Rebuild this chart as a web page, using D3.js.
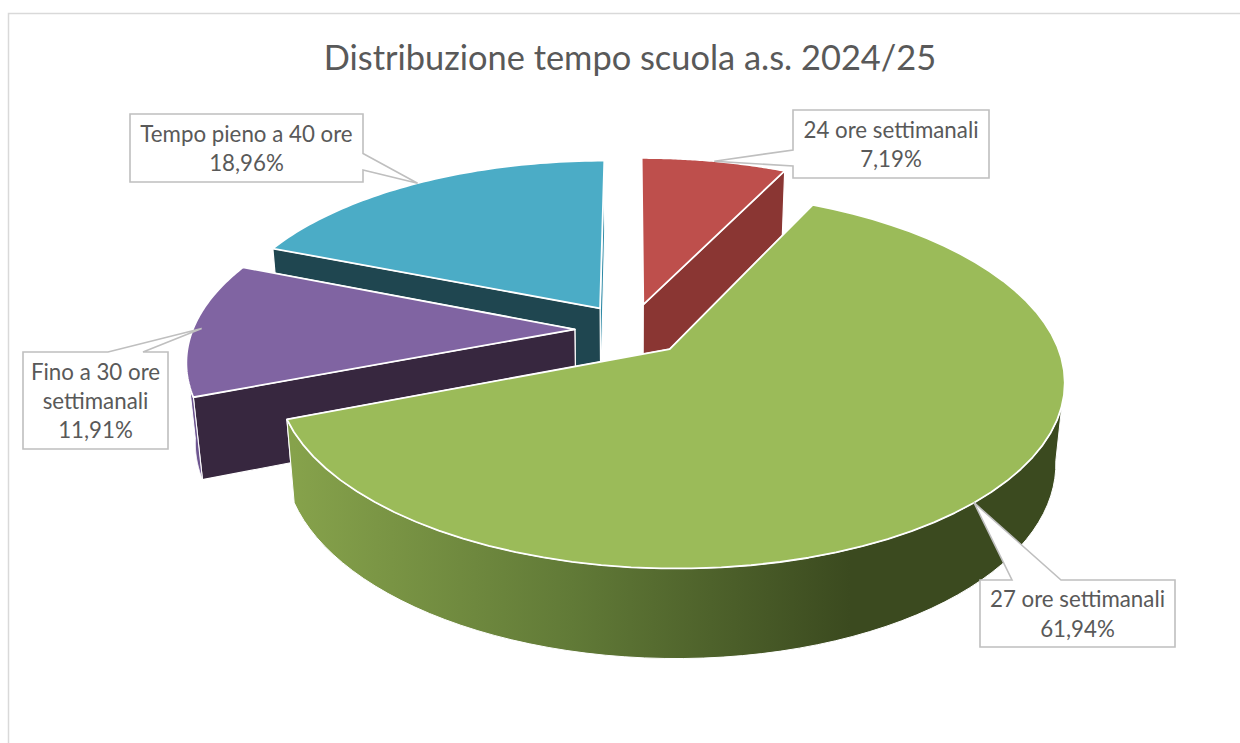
<!DOCTYPE html>
<html><head><meta charset="utf-8">
<script src="https://cdn.jsdelivr.net/npm/d3@7/dist/d3.min.js"></script>
<style>html,body{margin:0;padding:0;background:#fff;overflow:hidden}svg{display:block}text{font-family:Lato,"Open Sans",sans-serif;fill:#595959}</style>
</head><body><svg id="c" width="1240" height="743"></svg>
<script>
const categories = ["24 ore settimanali","27 ore settimanali","Fino a 30 ore settimanali","Tempo pieno a 40 ore"];
const values = [7.19,61.94,11.91,18.96];
const valueLabels = ["7,19%","61,94%","11,91%","18,96%"];
const labelLines = [["24 ore settimanali"],["27 ore settimanali"],["Fino a 30 ore","settimanali"],["Tempo pieno a 40 ore"]];
const topColors = ["#BE4F4C","#9BBB59","#8064A2","#4BACC6"];
const startWallColors = ["#C9C9C9","#5f7a33","#37273F","#1F4650"];
const endWallColors = ["#8A3633","#5f7a33","#37273F","#2E8AA6"];
const rimColors = ["#8A3633","url(#greenRim)","#6d5590","#2E8AA6"];
const title = "Distribuzione tempo scuola a.s. 2024/25";
// callout box: x0,x1,y0,y1, side of pointer, pointer base a,b, anchor inset
const boxes = [
 {x0:793,x1:989,y0:110,y1:178,side:"left",a:150,b:166,inset:1},
 {x0:980,x1:1175,y0:580,y1:647,side:"top",a:1012,b:1061,inset:1},
 {x0:23,x1:168,y0:352,y1:449,side:"top",a:108,b:143,inset:.978},
 {x0:130,x1:363,y0:114,y1:182,side:"right",a:153.5,b:170,inset:1}
];
// perspective model
const cx=631, cy=329.5, A=382, B=177.5, K=.16, M=.02, D=80.6, E=.147;
const proj=(X,Y,z)=>{const w=1+K*Y+M*z;return [cx+A*X/w, cy-(B*Y-D*z)/w];};

const svg=d3.select("#c");
const defs=svg.append("defs");
const g=defs.append("linearGradient").attr("id","greenRim").attr("gradientUnits","userSpaceOnUse")
 .attr("x1",294).attr("x2",850).attr("y1",0).attr("y2",0);
[[0,"#86A24B"],[.5,"#617A37"],[1,"#3B4A1F"]].forEach(s=>g.append("stop").attr("offset",s[0]).attr("stop-color",s[1]));

// frame
svg.append("path").attr("d","M8.5,743V13.5H1240").attr("fill","none").attr("stroke","#D9D9D9").attr("stroke-width",1.5);
svg.append("text").attr("x",630).attr("y",70).attr("text-anchor","middle").attr("font-size",34.4).text(title);

const pie=d3.pie().sort(null).startAngle(0).endAngle(2*Math.PI);
const arcs=pie(values).map((d,i)=>{
 const b=(d.startAngle+d.endAngle)/2;
 return {i,s:d.startAngle,e:d.endAngle,b,ox:E*Math.sin(b),oy:E*Math.cos(b)};
});
const line=d3.line();
const arcPts=(a,z,s=a.s,e=a.e)=>d3.range(0,61).map(j=>{const t=s+(e-s)*j/60;return proj(a.ox+Math.sin(t),a.oy+Math.cos(t),z);});
const frontFrom=Math.acos(-K), frontTo=2*Math.PI-Math.acos(-K);
const layer=svg.append("g");
arcs.slice().sort((p,q)=>Math.cos(q.b)-Math.cos(p.b)).forEach(a=>{
 const at0=arcPts(a,0), at1=arcPts(a,1), c0=proj(a.ox,a.oy,0), c1=proj(a.ox,a.oy,1);
 const s=layer.append("g");
 const wall=(pA,pB,col)=>s.append("path").attr("d",line([c0,pA,pB,c1])+"Z").attr("fill",col).attr("stroke","#fff").attr("stroke-width",1.2).attr("stroke-linejoin","round");
 // the wall whose outer end lies further back is painted first
 const walls=[{y:Math.cos(a.s),p:at0[0],q:at1[0],c:startWallColors[a.i]},{y:Math.cos(a.e),p:at0[60],q:at1[60],c:endWallColors[a.i]}];
 walls.sort((u,v)=>v.y-u.y).forEach(w=>wall(w.p,w.q,w.c));
 const lo=Math.max(a.s,frontFrom), hi=Math.min(a.e,frontTo);
 if(lo<hi){
  const r0=arcPts(a,0,lo,hi), r1=arcPts(a,1,lo,hi);
  s.append("path").attr("d",line(r0.concat(r1.slice().reverse()))+"Z").attr("fill",rimColors[a.i]).attr("stroke","#fff").attr("stroke-width",1);
 }
 s.append("path").attr("d",line([c0].concat(at0))+"Z").attr("fill",topColors[a.i]).attr("stroke","#fff").attr("stroke-width",1.8).attr("stroke-linejoin","round");
});
// callouts
const labels=svg.append("g");
arcs.forEach(a=>{
 const b=boxes[a.i], r=b.inset;
 const tip=proj(a.ox+r*Math.sin(a.b),a.oy+r*Math.cos(a.b),0);
 let p;
 const {x0,x1,y0,y1}=b;
 if(b.side==="left") p=[[x0,y0],[x1,y0],[x1,y1],[x0,y1],[x0,b.b],tip,[x0,b.a]];
 else if(b.side==="right") p=[[x0,y0],[x1,y0],[x1,b.a],tip,[x1,b.b],[x1,y1],[x0,y1]];
 else p=[[x0,y0],[b.a,y0],tip,[b.b,y0],[x1,y0],[x1,y1],[x0,y1]];
 labels.append("path").attr("d",line(p)+"Z").attr("fill","#fff").attr("stroke","#BFBFBF").attr("stroke-width",1.6);
 const lines=labelLines[a.i].concat([valueLabels[a.i]]);
 const mid=(x0+x1)/2, top=(y0+y1)/2-(lines.length*29.3)/2;
 lines.forEach((t,j)=>labels.append("text").attr("x",mid).attr("y",top+j*29.3+23).attr("text-anchor","middle").attr("font-size",22.3).text(t));
});
</script></body></html>
